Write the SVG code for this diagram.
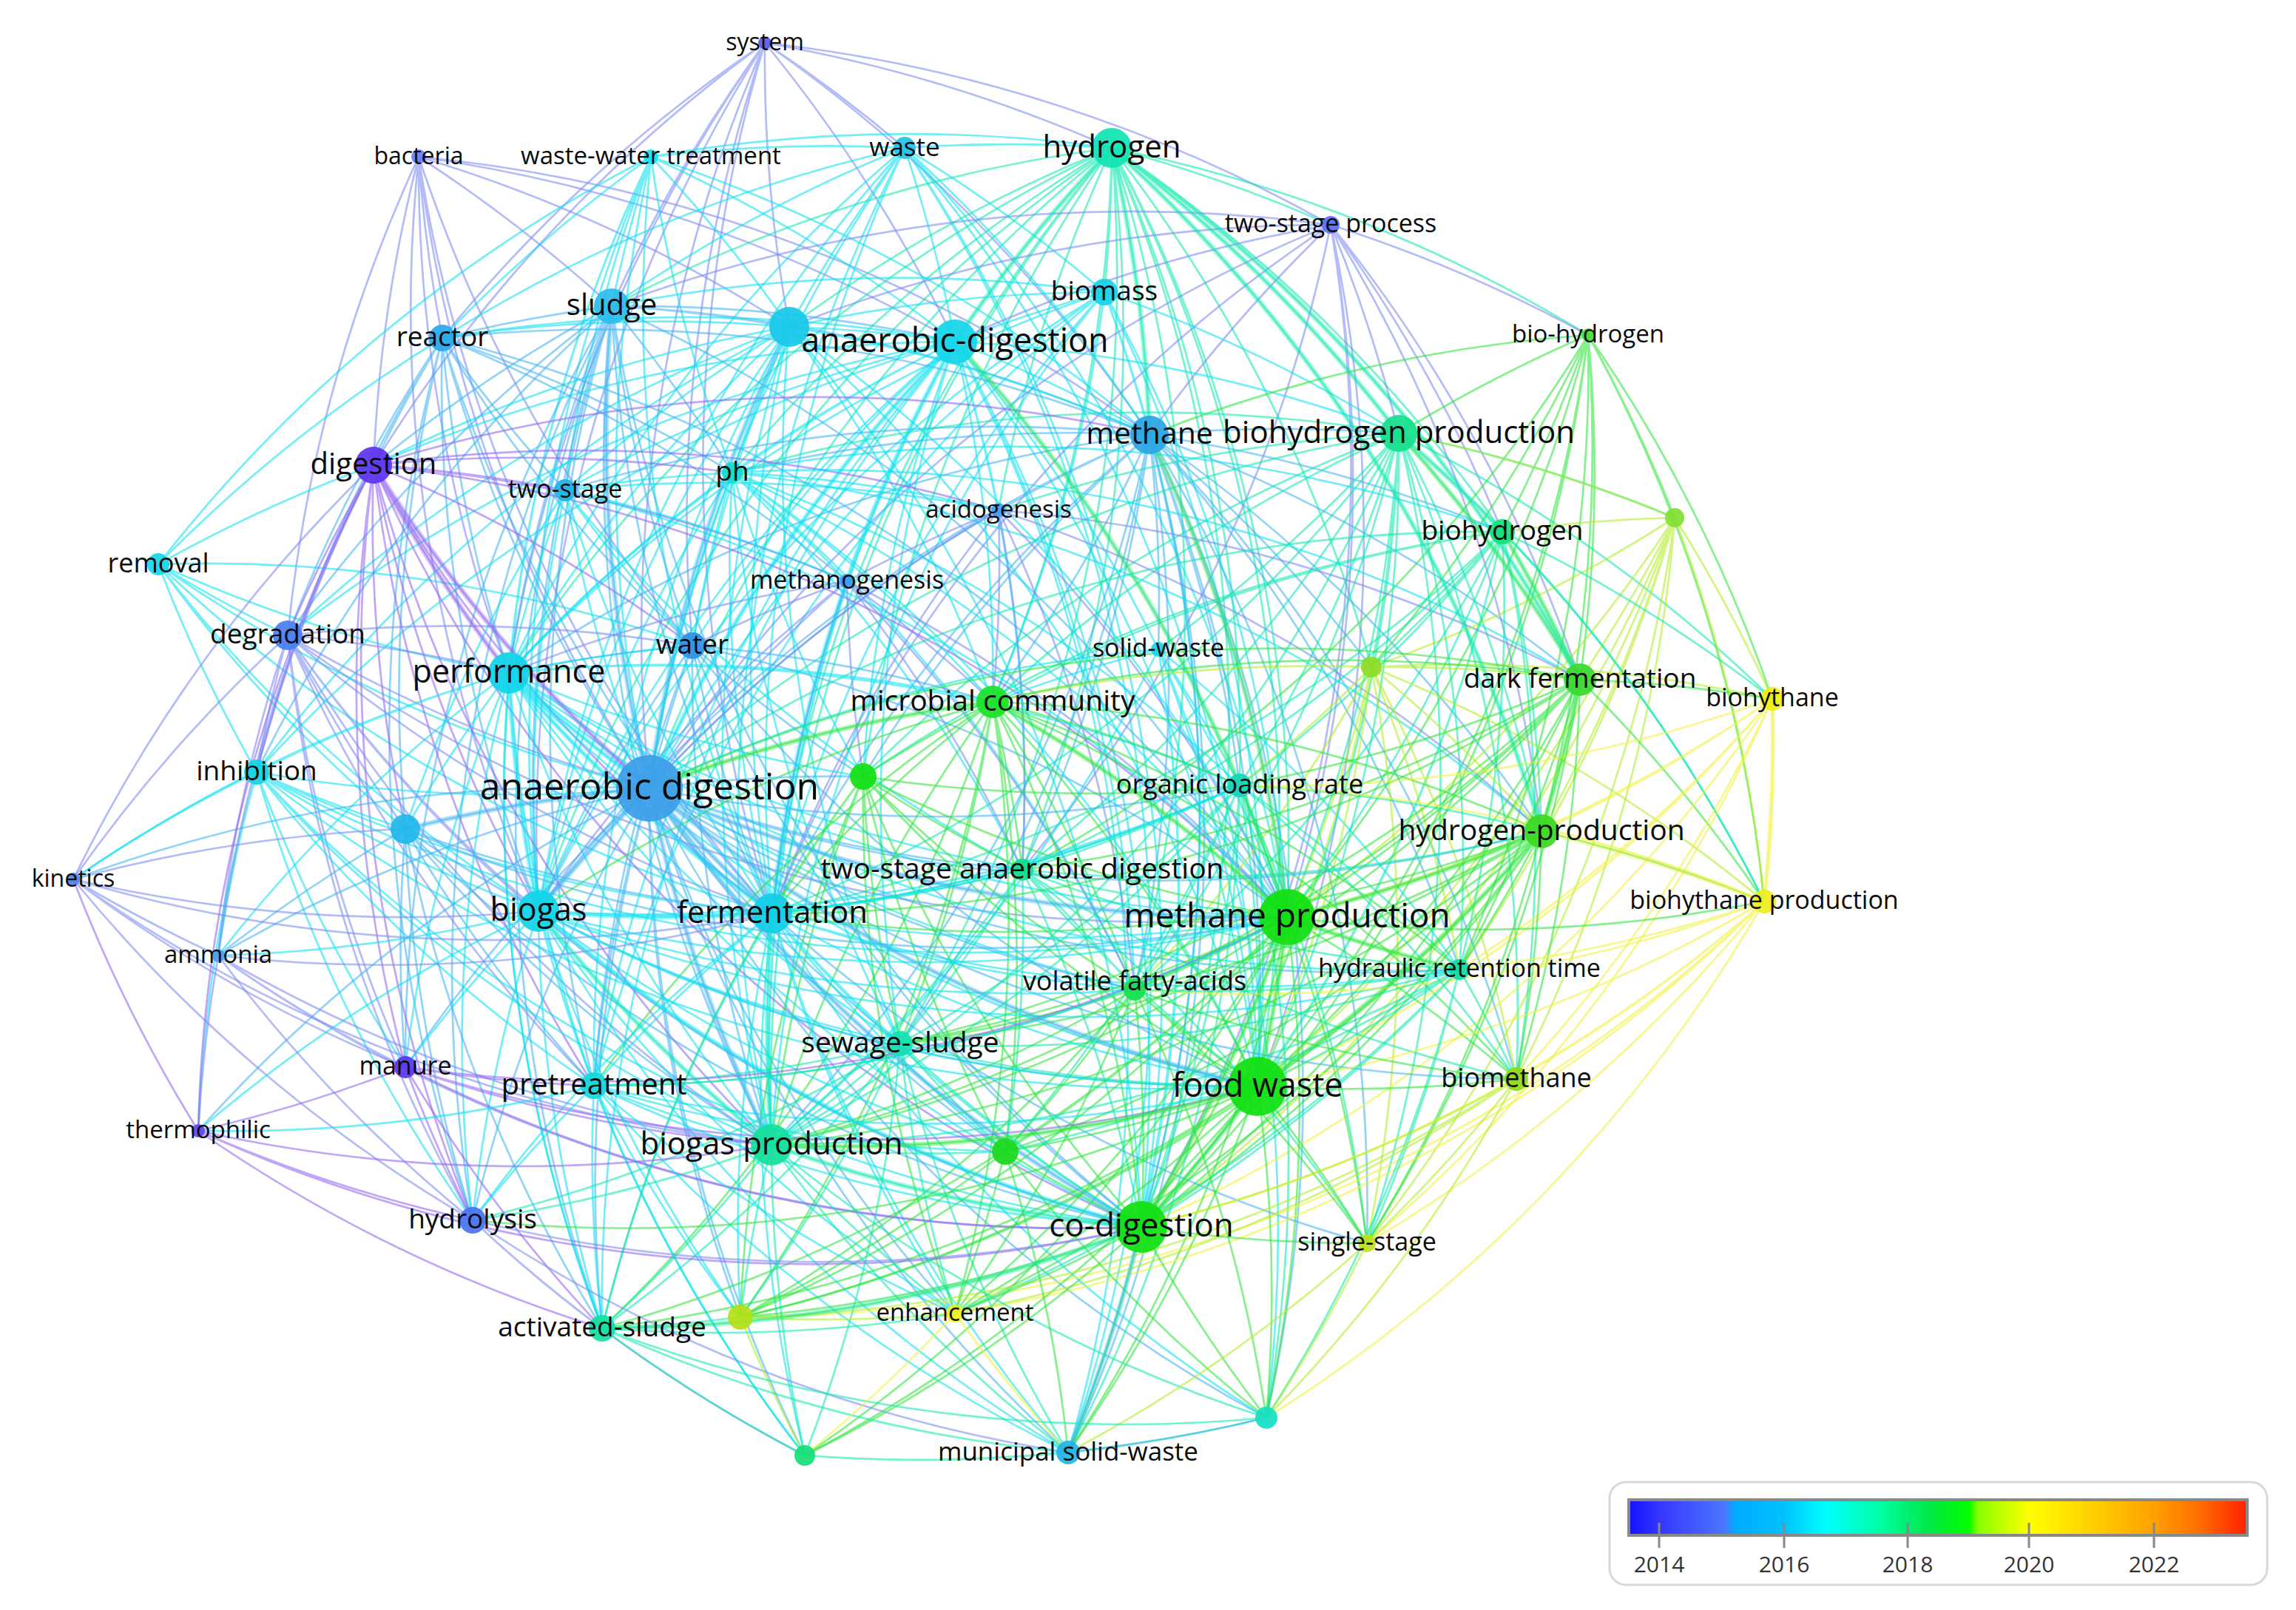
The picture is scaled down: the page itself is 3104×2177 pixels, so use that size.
<svg xmlns="http://www.w3.org/2000/svg" width="3104" height="2177" viewBox="0 0 3104 2177">
<defs>
<style>
text{font-family:"Open Sans","Noto Sans","Liberation Sans",sans-serif;fill:#0a0a0a;text-anchor:middle}
#edges path{fill:none;stroke-width:2.7;stroke-opacity:.58;stroke-linecap:round}
#edges path.k{stroke-width:7;stroke-opacity:.36}
.p{stroke:#9466f2}.b{stroke:#7d8cf3}.l{stroke:#44b4f2}.c{stroke:#0fe2f0}.t{stroke:#12e8b0}.g{stroke:#2ee63c}.y{stroke:#b2ee28}.Y{stroke:#f2f23a}
.n circle{fill-opacity:.93}
.lg text{font-size:30px;fill:#333}
</style>
<linearGradient id="cb" x1="0" x2="1" y1="0" y2="0">
<stop offset="0" stop-color="#1212ff"/><stop offset=".05" stop-color="#3636ff"/><stop offset=".155" stop-color="#4a76ff"/><stop offset=".172" stop-color="#00aaff"/><stop offset=".251" stop-color="#00c2ff"/><stop offset=".319" stop-color="#00ffff"/><stop offset=".402" stop-color="#00ffa8"/><stop offset=".451" stop-color="#00f070"/><stop offset=".49" stop-color="#00e840"/><stop offset=".55" stop-color="#00ff00"/><stop offset=".565" stop-color="#88ff00"/><stop offset=".647" stop-color="#ffff00"/><stop offset=".75" stop-color="#ffd000"/><stop offset=".849" stop-color="#ffa000"/><stop offset=".92" stop-color="#ff7000"/><stop offset="1" stop-color="#ff2000"/>
</linearGradient>
</defs>
<rect width="3104" height="2177" fill="#fff"/>
<g id="edges">
<path class="b" d="M1034 58A2e3 2e3 0 0 1 1223 200M1034 58A2e3 2e3 0 0 1 1503 200M1034 58A2e3 2e3 0 0 1 1799 304M1034 58A2e3 2e3 0 0 0 827 414M1034 58A2e3 2e3 0 0 0 1067 442M1034 58A2e3 2e3 0 0 1 1291 462M1034 58A2e3 2e3 0 0 0 878 1066M1034 58A2e3 2e3 0 0 0 688 910M1034 58A2e3 2e3 0 0 0 505 629M1034 58A2e3 2e3 0 0 0 598 457M1034 58A2e3 2e3 0 0 1 1554 588M1034 58A2e3 2e3 0 0 0 728 1232M1034 58A2e3 2e3 0 0 0 1044 1235M1034 58A2e3 2e3 0 0 0 936 873"/>
<path class="b" d="M566 212A2e3 2e3 0 0 1 827 414M566 212A2e3 2e3 0 0 0 598 457M566 212A2e3 2e3 0 0 0 505 629M566 212A2e3 2e3 0 0 0 878 1066M566 212A2e3 2e3 0 0 0 688 910M566 212A2e3 2e3 0 0 1 1067 442M566 212A2e3 2e3 0 0 1 1291 462M566 212A2e3 2e3 0 0 0 389 859M566 212A2e3 2e3 0 0 0 728 1232M566 212A2e3 2e3 0 0 0 936 873M566 212A2e3 2e3 0 0 1 1554 588M566 212A2e3 2e3 0 0 0 1044 1235"/>
<path class="c" d="M880 212A2e3 2e3 0 0 0 827 414M880 212A2e3 2e3 0 0 0 598 457M880 212A2e3 2e3 0 0 1 1067 442M880 212A2e3 2e3 0 0 1 1291 462M880 212A2e3 2e3 0 0 0 878 1066M880 212A2e3 2e3 0 0 0 688 910M880 212A2e3 2e3 0 0 1 1223 200M880 212A2e3 2e3 0 0 1 1503 200M880 212A2e3 2e3 0 0 0 728 1232M880 212A2e3 2e3 0 0 0 990 639M880 212A2e3 2e3 0 0 0 1044 1235M880 212A2e3 2e3 0 0 1 1554 588M880 212A2e3 2e3 0 0 0 814 1796M880 212A2e3 2e3 0 0 0 764 663"/>
<path class="c" d="M214 763A2e3 2e3 0 0 0 688 910M214 763A2e3 2e3 0 0 0 878 1066M214 763A2e3 2e3 0 0 0 728 1232M214 763A2e3 2e3 0 0 0 389 859M214 763A2e3 2e3 0 0 1 505 629M214 763A2e3 2e3 0 0 1 598 457M214 763A2e3 2e3 0 0 0 548 1121M214 763A2e3 2e3 0 0 0 1044 1235M214 763A2e3 2e3 0 0 1 936 873M214 763A2e3 2e3 0 0 1 880 212M214 763A2e3 2e3 0 0 0 347 1044"/>
<path class="c" d="M1223 200A2e3 2e3 0 0 1 1503 200M1223 200A2e3 2e3 0 0 0 1067 442M1223 200A2e3 2e3 0 0 1 1291 462M1223 200A2e3 2e3 0 0 0 827 414M1223 200A2e3 2e3 0 0 0 878 1066M1223 200A2e3 2e3 0 0 0 688 910M1223 200A2e3 2e3 0 0 0 728 1232M1223 200A2e3 2e3 0 0 0 1044 1235M1223 200A2e3 2e3 0 0 1 1554 588M1223 200A2e3 2e3 0 0 1 1493 395M1223 200A2e3 2e3 0 0 1 1543 1659M1223 200A2e3 2e3 0 0 1 1700 1469M1223 200A2e3 2e3 0 0 1 1444 1964M1223 200A2e3 2e3 0 0 0 1043 1548M1223 200A2e3 2e3 0 0 1 1740 1240M1223 200A2e3 2e3 0 0 0 598 457"/>
<path class="t" d="M1503 200A2e3 2e3 0 0 0 1291 462M1503 200A2e3 2e3 0 0 0 1067 442M1503 200A2e3 2e3 0 0 1 1493 395M1503 200A2e3 2e3 0 0 1 1554 588M1503 200A2e3 2e3 0 0 1 1891 586M1503 200A2e3 2e3 0 0 1 2031 719M1503 200A2e3 2e3 0 0 1 2136 919M1503 200A2e3 2e3 0 0 1 2084 1124M1503 200A2e3 2e3 0 0 1 1740 1240M1503 200A2e3 2e3 0 0 0 1044 1235M1503 200A2e3 2e3 0 0 0 878 1066M1503 200A2e3 2e3 0 0 0 688 910M1503 200A2e3 2e3 0 0 0 728 1232M1503 200A2e3 2e3 0 0 1 1799 304M1503 200A2e3 2e3 0 0 0 827 414M1503 200A2e3 2e3 0 0 0 1350 690M1503 200A2e3 2e3 0 0 1 1342 949M1503 200A2e3 2e3 0 0 1 1382 1176M1503 200A2e3 2e3 0 0 1 1700 1469M1503 200A2e3 2e3 0 0 1 1543 1659M1503 200A2e3 2e3 0 0 1 2147 453M1503 200A2e3 2e3 0 0 0 990 639M1503 200A2e3 2e3 0 0 1 1854 902M1503 200A2e3 2e3 0 0 1 1676 1062M1503 200A2e3 2e3 0 0 1 1534 1338M1503 200A2e3 2e3 0 0 1 1217 1411M1503 200A2e3 2e3 0 0 0 1043 1548M1503 200A2e3 2e3 0 0 0 1167 1050"/>
<path class="b" d="M1799 304A2e3 2e3 0 0 1 1891 586M1799 304A2e3 2e3 0 0 0 1554 588M1799 304A2e3 2e3 0 0 0 1291 462M1799 304A2e3 2e3 0 0 1 1740 1240M1799 304A2e3 2e3 0 0 1 1700 1469M1799 304A2e3 2e3 0 0 0 878 1066M1799 304A2e3 2e3 0 0 0 1044 1235M1799 304A2e3 2e3 0 0 1 2031 719M1799 304A2e3 2e3 0 0 0 827 414M1799 304A2e3 2e3 0 0 0 1067 442M1799 304A2e3 2e3 0 0 1 1382 1176M1799 304A2e3 2e3 0 0 1 1543 1659M1799 304A2e3 2e3 0 0 1 2136 919M1799 304A2e3 2e3 0 0 1 2084 1124M1799 304A2e3 2e3 0 0 1 2147 453"/>
<path class="c" d="M1493 395A2e3 2e3 0 0 0 1291 462M1493 395A2e3 2e3 0 0 0 1067 442M1493 395A2e3 2e3 0 0 1 1554 588M1493 395A2e3 2e3 0 0 1 1891 586M1493 395A2e3 2e3 0 0 0 878 1066M1493 395A2e3 2e3 0 0 0 688 910M1493 395A2e3 2e3 0 0 0 728 1232M1493 395A2e3 2e3 0 0 0 1044 1235M1493 395A2e3 2e3 0 0 1 1740 1240M1493 395A2e3 2e3 0 0 1 1700 1469M1493 395A2e3 2e3 0 0 1 1543 1659M1493 395A2e3 2e3 0 0 0 803 1468M1493 395A2e3 2e3 0 0 0 1043 1548M1493 395A2e3 2e3 0 0 1 1342 949M1493 395A2e3 2e3 0 0 0 827 414"/>
<path class="l" d="M827 414A2e3 2e3 0 0 1 1291 462M827 414A2e3 2e3 0 0 1 1067 442M827 414A2e3 2e3 0 0 0 598 457M827 414A2e3 2e3 0 0 0 505 629M827 414A2e3 2e3 0 0 0 878 1066M827 414A2e3 2e3 0 0 0 688 910M827 414A2e3 2e3 0 0 0 728 1232M827 414A2e3 2e3 0 0 0 1044 1235M827 414A2e3 2e3 0 0 0 764 663M827 414A2e3 2e3 0 0 1 990 639M827 414A2e3 2e3 0 0 0 936 873M827 414A2e3 2e3 0 0 1 1554 588M827 414A2e3 2e3 0 0 0 389 859M827 414A2e3 2e3 0 0 0 347 1044M827 414A2e3 2e3 0 0 0 803 1468M827 414A2e3 2e3 0 0 0 814 1796M827 414A2e3 2e3 0 0 0 639 1650M827 414A2e3 2e3 0 0 0 548 1443M827 414A2e3 2e3 0 0 0 1043 1548M827 414A2e3 2e3 0 0 0 1543 1659M827 414A2e3 2e3 0 0 1 1740 1240"/>
<path class="c" d="M1291 462A2e3 2e3 0 0 0 1067 442M1291 462A2e3 2e3 0 0 0 598 457M1291 462A2e3 2e3 0 0 0 505 629M1291 462A2e3 2e3 0 0 1 1554 588M1291 462A2e3 2e3 0 0 1 1891 586M1291 462A2e3 2e3 0 0 0 878 1066M1291 462A2e3 2e3 0 0 0 688 910M1291 462A2e3 2e3 0 0 0 728 1232M1291 462A2e3 2e3 0 0 0 1044 1235M1291 462A2e3 2e3 0 0 0 990 639M1291 462A2e3 2e3 0 0 1 1342 949M1291 462A2e3 2e3 0 0 1 1740 1240M1291 462A2e3 2e3 0 0 1 1700 1469M1291 462A2e3 2e3 0 0 1 1543 1659M1291 462A2e3 2e3 0 0 1 1382 1176M1291 462A2e3 2e3 0 0 1 1350 690M1291 462A2e3 2e3 0 0 0 1145 786M1291 462A2e3 2e3 0 0 0 1043 1548M1291 462A2e3 2e3 0 0 0 1217 1411M1291 462A2e3 2e3 0 0 0 936 873M1291 462A2e3 2e3 0 0 0 764 663M1291 462A2e3 2e3 0 0 1 1566 878M1291 462A2e3 2e3 0 0 1 1676 1062M1291 462A2e3 2e3 0 0 1 1534 1338M1291 462A2e3 2e3 0 0 0 1167 1050M1291 462A2e3 2e3 0 0 0 347 1044M1291 462A2e3 2e3 0 0 0 389 859M1291 462A2e3 2e3 0 0 0 803 1468M1291 462A2e3 2e3 0 0 0 814 1796M1291 462A2e3 2e3 0 0 1 1444 1964"/>
<path class="c" d="M1067 442A2e3 2e3 0 0 0 598 457M1067 442A2e3 2e3 0 0 0 505 629M1067 442A2e3 2e3 0 0 0 878 1066M1067 442A2e3 2e3 0 0 0 688 910M1067 442A2e3 2e3 0 0 0 728 1232M1067 442A2e3 2e3 0 0 0 1044 1235M1067 442A2e3 2e3 0 0 0 990 639M1067 442A2e3 2e3 0 0 0 764 663M1067 442A2e3 2e3 0 0 0 936 873M1067 442A2e3 2e3 0 0 1 1554 588M1067 442A2e3 2e3 0 0 1 1740 1240M1067 442A2e3 2e3 0 0 1 1700 1469M1067 442A2e3 2e3 0 0 1 1543 1659M1067 442A2e3 2e3 0 0 1 1342 949M1067 442A2e3 2e3 0 0 0 347 1044M1067 442A2e3 2e3 0 0 0 389 859M1067 442A2e3 2e3 0 0 0 1217 1411M1067 442A2e3 2e3 0 0 0 1043 1548M1067 442A2e3 2e3 0 0 0 803 1468"/>
<path class="l" d="M598 457A2e3 2e3 0 0 0 505 629M598 457A2e3 2e3 0 0 0 878 1066M598 457A2e3 2e3 0 0 0 688 910M598 457A2e3 2e3 0 0 0 728 1232M598 457A2e3 2e3 0 0 0 1044 1235M598 457A2e3 2e3 0 0 0 764 663M598 457A2e3 2e3 0 0 1 990 639M598 457A2e3 2e3 0 0 0 936 873M598 457A2e3 2e3 0 0 0 389 859M598 457A2e3 2e3 0 0 0 347 1044M598 457A2e3 2e3 0 0 1 1554 588M598 457A2e3 2e3 0 0 1 1740 1240M598 457A2e3 2e3 0 0 1 1145 786M598 457A2e3 2e3 0 0 0 639 1650M598 457A2e3 2e3 0 0 0 548 1121"/>
<path class="g" d="M2147 453A2e3 2e3 0 0 0 1891 586M2147 453A2e3 2e3 0 0 1 2031 719M2147 453A2e3 2e3 0 0 1 2136 919M2147 453A2e3 2e3 0 0 1 2084 1124M2147 453A2e3 2e3 0 0 1 2264 700M2147 453A2e3 2e3 0 0 1 1740 1240M2147 453A2e3 2e3 0 0 1 1700 1469M2147 453A2e3 2e3 0 0 1 2396 945M2147 453A2e3 2e3 0 0 1 2385 1219M2147 453A2e3 2e3 0 0 0 1554 588M2147 453A2e3 2e3 0 0 1 1382 1176M2147 453A2e3 2e3 0 0 1 1854 902M2147 453A2e3 2e3 0 0 1 1543 1659M2147 453A2e3 2e3 0 0 1 1973 1311"/>
<path class="l" d="M1554 588A2e3 2e3 0 0 1 1891 586M1554 588A2e3 2e3 0 0 0 878 1066M1554 588A2e3 2e3 0 0 0 688 910M1554 588A2e3 2e3 0 0 0 1044 1235M1554 588A2e3 2e3 0 0 1 1740 1240M1554 588A2e3 2e3 0 0 1 1700 1469M1554 588A2e3 2e3 0 0 1 1543 1659M1554 588A2e3 2e3 0 0 1 2031 719M1554 588A2e3 2e3 0 0 1 2136 919M1554 588A2e3 2e3 0 0 1 2084 1124M1554 588A2e3 2e3 0 0 1 1342 949M1554 588A2e3 2e3 0 0 1 1382 1176M1554 588A2e3 2e3 0 0 1 1676 1062M1554 588A2e3 2e3 0 0 1 1973 1311M1554 588A2e3 2e3 0 0 1 1534 1338M1554 588A2e3 2e3 0 0 1 1217 1411M1554 588A2e3 2e3 0 0 1 1043 1548M1554 588A2e3 2e3 0 0 0 728 1232M1554 588A2e3 2e3 0 0 0 1350 690M1554 588A2e3 2e3 0 0 0 990 639M1554 588A2e3 2e3 0 0 0 1167 1050M1554 588A2e3 2e3 0 0 1 1854 902M1554 588A2e3 2e3 0 0 1 1566 878M1554 588A2e3 2e3 0 0 1 1444 1964M1554 588A2e3 2e3 0 0 1 1712 1917M1554 588A2e3 2e3 0 0 1 2050 1459M1554 588A2e3 2e3 0 0 1 1848 1681M1554 588A2e3 2e3 0 0 0 764 663"/>
<path class="t" d="M1891 586A2e3 2e3 0 0 1 2031 719M1891 586A2e3 2e3 0 0 1 2136 919M1891 586A2e3 2e3 0 0 1 2084 1124M1891 586A2e3 2e3 0 0 1 1740 1240M1891 586A2e3 2e3 0 0 1 1700 1469M1891 586A2e3 2e3 0 0 1 1543 1659M1891 586A2e3 2e3 0 0 0 878 1066M1891 586A2e3 2e3 0 0 1 1044 1235M1891 586A2e3 2e3 0 0 1 1854 902M1891 586A2e3 2e3 0 0 1 2264 700M1891 586A2e3 2e3 0 0 0 1342 949M1891 586A2e3 2e3 0 0 1 1676 1062M1891 586A2e3 2e3 0 0 1 1973 1311M1891 586A2e3 2e3 0 0 1 1534 1338M1891 586A2e3 2e3 0 0 1 1382 1176M1891 586A2e3 2e3 0 0 1 1566 878M1891 586A2e3 2e3 0 0 0 1350 690M1891 586A2e3 2e3 0 0 1 2396 945M1891 586A2e3 2e3 0 0 1 2385 1219M1891 586A2e3 2e3 0 0 1 2050 1459M1891 586A2e3 2e3 0 0 1 1848 1681M1891 586A2e3 2e3 0 0 1 1043 1548M1891 586A2e3 2e3 0 0 0 1167 1050M1891 586A2e3 2e3 0 0 0 990 639"/>
<path class="p" d="M505 629A2e3 2e3 0 0 0 878 1066M505 629A2e3 2e3 0 0 0 688 910M505 629A2e3 2e3 0 0 0 728 1232M505 629A2e3 2e3 0 0 0 1044 1235M505 629A2e3 2e3 0 0 1 764 663M505 629A2e3 2e3 0 0 1 990 639M505 629A2e3 2e3 0 0 1 936 873M505 629A2e3 2e3 0 0 0 389 859M505 629A2e3 2e3 0 0 0 347 1044M505 629A2e3 2e3 0 0 0 548 1443M505 629A2e3 2e3 0 0 0 639 1650M505 629A2e3 2e3 0 0 0 548 1121M505 629A2e3 2e3 0 0 0 803 1468M505 629A2e3 2e3 0 0 0 1043 1548M505 629A2e3 2e3 0 0 0 1543 1659M505 629A2e3 2e3 0 0 1 1740 1240M505 629A2e3 2e3 0 0 1 1145 786M505 629A2e3 2e3 0 0 1 1350 690M505 629A2e3 2e3 0 0 1 1554 588"/>
<path class="c" d="M764 663A2e3 2e3 0 0 0 878 1066M764 663A2e3 2e3 0 0 0 688 910M764 663A2e3 2e3 0 0 0 728 1232M764 663A2e3 2e3 0 0 0 1044 1235M764 663A2e3 2e3 0 0 1 990 639M764 663A2e3 2e3 0 0 0 936 873M764 663A2e3 2e3 0 0 1 1740 1240M764 663A2e3 2e3 0 0 1 1350 690M764 663A2e3 2e3 0 0 1 1145 786M764 663A2e3 2e3 0 0 0 548 1121M764 663A2e3 2e3 0 0 0 1382 1176"/>
<path class="c" d="M990 639A2e3 2e3 0 0 0 878 1066M990 639A2e3 2e3 0 0 0 688 910M990 639A2e3 2e3 0 0 0 728 1232M990 639A2e3 2e3 0 0 0 1044 1235M990 639A2e3 2e3 0 0 1 1342 949M990 639A2e3 2e3 0 0 1 1740 1240M990 639A2e3 2e3 0 0 1 1350 690M990 639A2e3 2e3 0 0 1 1145 786M990 639A2e3 2e3 0 0 0 936 873M990 639A2e3 2e3 0 0 0 1167 1050M990 639A2e3 2e3 0 0 1 1382 1176M990 639A2e3 2e3 0 0 1 1534 1338M990 639A2e3 2e3 0 0 1 1676 1062M990 639A2e3 2e3 0 0 1 2136 919M990 639A2e3 2e3 0 0 1 2084 1124M990 639A2e3 2e3 0 0 1 2031 719M990 639A2e3 2e3 0 0 0 1217 1411M990 639A2e3 2e3 0 0 1 1700 1469"/>
<path class="b" d="M1350 690A2e3 2e3 0 0 0 1145 786M1350 690A2e3 2e3 0 0 1 1740 1240M1350 690A2e3 2e3 0 0 0 1044 1235M1350 690A2e3 2e3 0 0 0 878 1066M1350 690A2e3 2e3 0 0 1 1342 949M1350 690A2e3 2e3 0 0 1 1382 1176M1350 690A2e3 2e3 0 0 1 2084 1124M1350 690A2e3 2e3 0 0 1 2136 919M1350 690A2e3 2e3 0 0 1 1534 1338"/>
<path class="y" d="M2264 700A2e3 2e3 0 0 0 2031 719M2264 700A2e3 2e3 0 0 1 2136 919M2264 700A2e3 2e3 0 0 1 2084 1124M2264 700A2e3 2e3 0 0 1 2396 945M2264 700A2e3 2e3 0 0 1 2385 1219M2264 700A2e3 2e3 0 0 1 1740 1240M2264 700A2e3 2e3 0 0 1 1700 1469M2264 700A2e3 2e3 0 0 0 1891 586M2264 700A2e3 2e3 0 0 1 2050 1459M2264 700A2e3 2e3 0 0 1 1854 902M2264 700A2e3 2e3 0 0 1 1543 1659M2264 700A2e3 2e3 0 0 1 1848 1681M2264 700A2e3 2e3 0 0 1 1973 1311"/>
<path class="t" d="M2031 719A2e3 2e3 0 0 1 2136 919M2031 719A2e3 2e3 0 0 1 2084 1124M2031 719A2e3 2e3 0 0 1 1740 1240M2031 719A2e3 2e3 0 0 1 1700 1469M2031 719A2e3 2e3 0 0 1 1854 902M2031 719A2e3 2e3 0 0 1 2396 945M2031 719A2e3 2e3 0 0 1 2385 1219M2031 719A2e3 2e3 0 0 1 1543 1659M2031 719A2e3 2e3 0 0 1 1676 1062M2031 719A2e3 2e3 0 0 1 1973 1311M2031 719A2e3 2e3 0 0 1 1534 1338M2031 719A2e3 2e3 0 0 0 878 1066M2031 719A2e3 2e3 0 0 1 1044 1235M2031 719A2e3 2e3 0 0 1 1382 1176M2031 719A2e3 2e3 0 0 1 2050 1459M2031 719A2e3 2e3 0 0 0 1342 949M2031 719A2e3 2e3 0 0 0 1167 1050"/>
<path class="b" d="M1145 786A2e3 2e3 0 0 0 878 1066M1145 786A2e3 2e3 0 0 0 1044 1235M1145 786A2e3 2e3 0 0 1 1342 949M1145 786A2e3 2e3 0 0 1 1740 1240M1145 786A2e3 2e3 0 0 0 688 910M1145 786A2e3 2e3 0 0 0 728 1232M1145 786A2e3 2e3 0 0 0 936 873M1145 786A2e3 2e3 0 0 1 1382 1176M1145 786A2e3 2e3 0 0 0 1167 1050M1145 786A2e3 2e3 0 0 1 1534 1338"/>
<path class="b" d="M389 859A2e3 2e3 0 0 1 688 910M389 859A2e3 2e3 0 0 0 347 1044M389 859A2e3 2e3 0 0 0 878 1066M389 859A2e3 2e3 0 0 0 728 1232M389 859A2e3 2e3 0 0 0 1044 1235M389 859A2e3 2e3 0 0 0 548 1121M389 859A2e3 2e3 0 0 0 295 1292M389 859A2e3 2e3 0 0 0 99 1189M389 859A2e3 2e3 0 0 0 548 1443M389 859A2e3 2e3 0 0 0 639 1650M389 859A2e3 2e3 0 0 1 936 873M389 859A2e3 2e3 0 0 0 803 1468M389 859A2e3 2e3 0 0 0 1043 1548M389 859A2e3 2e3 0 0 0 1740 1240M389 859A2e3 2e3 0 0 0 1543 1659"/>
<path class="l" d="M936 873A2e3 2e3 0 0 0 878 1066M936 873A2e3 2e3 0 0 0 688 910M936 873A2e3 2e3 0 0 0 728 1232M936 873A2e3 2e3 0 0 0 1044 1235M936 873A2e3 2e3 0 0 1 1342 949M936 873A2e3 2e3 0 0 1 1740 1240M936 873A2e3 2e3 0 0 0 1167 1050M936 873A2e3 2e3 0 0 0 803 1468M936 873A2e3 2e3 0 0 0 1043 1548M936 873A2e3 2e3 0 0 0 1543 1659M936 873A2e3 2e3 0 0 0 1700 1469"/>
<path class="c" d="M1566 878A2e3 2e3 0 0 1 1740 1240M1566 878A2e3 2e3 0 0 1 1700 1469M1566 878A2e3 2e3 0 0 1 1543 1659M1566 878A2e3 2e3 0 0 1 1676 1062M1566 878A2e3 2e3 0 0 0 1342 949M1566 878A2e3 2e3 0 0 0 878 1066M1566 878A2e3 2e3 0 0 1 1043 1548M1566 878A2e3 2e3 0 0 1 1973 1311M1566 878A2e3 2e3 0 0 1 1712 1917M1566 878A2e3 2e3 0 0 1 1444 1964"/>
<path class="c" d="M688 910A2e3 2e3 0 0 0 878 1066M688 910A2e3 2e3 0 0 0 728 1232M688 910A2e3 2e3 0 0 0 1044 1235M688 910A2e3 2e3 0 0 0 347 1044M688 910A2e3 2e3 0 0 0 548 1121M688 910A2e3 2e3 0 0 0 1043 1548M688 910A2e3 2e3 0 0 0 803 1468M688 910A2e3 2e3 0 0 0 1740 1240M688 910A2e3 2e3 0 0 0 1700 1469M688 910A2e3 2e3 0 0 0 1543 1659M688 910A2e3 2e3 0 0 1 1342 949M688 910A2e3 2e3 0 0 0 1167 1050M688 910A2e3 2e3 0 0 0 1382 1176M688 910A2e3 2e3 0 0 0 1217 1411M688 910A2e3 2e3 0 0 0 639 1650M688 910A2e3 2e3 0 0 0 548 1443M688 910A2e3 2e3 0 0 0 814 1796M688 910A2e3 2e3 0 0 0 1534 1338M688 910A2e3 2e3 0 0 1 1676 1062M688 910A2e3 2e3 0 0 0 1973 1311M688 910A2e3 2e3 0 0 0 295 1292M688 910A2e3 2e3 0 0 0 99 1189M688 910A2e3 2e3 0 0 1 936 873"/>
<path class="y" d="M1854 902A2e3 2e3 0 0 1 2136 919M1854 902A2e3 2e3 0 0 1 2084 1124M1854 902A2e3 2e3 0 0 1 1740 1240M1854 902A2e3 2e3 0 0 1 1700 1469M1854 902A2e3 2e3 0 0 1 1543 1659M1854 902A2e3 2e3 0 0 1 2396 945M1854 902A2e3 2e3 0 0 1 2385 1219M1854 902A2e3 2e3 0 0 1 2050 1459M1854 902A2e3 2e3 0 0 1 1676 1062M1854 902A2e3 2e3 0 0 1 1973 1311M1854 902A2e3 2e3 0 0 1 1848 1681M1854 902A2e3 2e3 0 0 0 1342 949M1854 902A2e3 2e3 0 0 1 1534 1338"/>
<path class="g" d="M1342 949A2e3 2e3 0 0 1 1740 1240M1342 949A2e3 2e3 0 0 1 1700 1469M1342 949A2e3 2e3 0 0 1 1543 1659M1342 949A2e3 2e3 0 0 0 878 1066M1342 949A2e3 2e3 0 0 0 1044 1235M1342 949A2e3 2e3 0 0 0 728 1232M1342 949A2e3 2e3 0 0 0 1043 1548M1342 949A2e3 2e3 0 0 0 1167 1050M1342 949A2e3 2e3 0 0 1 1382 1176M1342 949A2e3 2e3 0 0 1 1676 1062M1342 949A2e3 2e3 0 0 1 1534 1338M1342 949A2e3 2e3 0 0 1 1217 1411M1342 949A2e3 2e3 0 0 1 1359 1557M1342 949A2e3 2e3 0 0 1 1973 1311M1342 949A2e3 2e3 0 0 1 2136 919M1342 949A2e3 2e3 0 0 1 2084 1124M1342 949A2e3 2e3 0 0 1 2050 1459M1342 949A2e3 2e3 0 0 0 803 1468M1342 949A2e3 2e3 0 0 1 1291 1776M1342 949A2e3 2e3 0 0 1 1001 1781M1342 949A2e3 2e3 0 0 1 814 1796"/>
<path class="g" d="M2136 919A2e3 2e3 0 0 1 2084 1124M2136 919A2e3 2e3 0 0 1 1740 1240M2136 919A2e3 2e3 0 0 1 1700 1469M2136 919A2e3 2e3 0 0 1 1543 1659M2136 919A2e3 2e3 0 0 1 2396 945M2136 919A2e3 2e3 0 0 1 2385 1219M2136 919A2e3 2e3 0 0 1 2050 1459M2136 919A2e3 2e3 0 0 1 1973 1311M2136 919A2e3 2e3 0 0 1 1676 1062M2136 919A2e3 2e3 0 0 1 1534 1338M2136 919A2e3 2e3 0 0 1 1848 1681M2136 919A2e3 2e3 0 0 1 1382 1176M2136 919A2e3 2e3 0 0 1 1044 1235M2136 919A2e3 2e3 0 0 0 878 1066M2136 919A2e3 2e3 0 0 1 1043 1548M2136 919A2e3 2e3 0 0 1 1217 1411"/>
<path class="Y" d="M2396 945A2e3 2e3 0 0 1 2385 1219M2396 945A2e3 2e3 0 0 1 2084 1124M2396 945A2e3 2e3 0 0 1 2050 1459M2396 945A2e3 2e3 0 0 1 1740 1240M2396 945A2e3 2e3 0 0 1 1700 1469M2396 945A2e3 2e3 0 0 1 1543 1659M2396 945A2e3 2e3 0 0 1 1848 1681M2396 945A2e3 2e3 0 0 1 1973 1311M2396 945A2e3 2e3 0 0 1 1676 1062"/>
<path class="c" d="M347 1044A2e3 2e3 0 0 0 878 1066M347 1044A2e3 2e3 0 0 0 728 1232M347 1044A2e3 2e3 0 0 0 1044 1235M347 1044A2e3 2e3 0 0 0 548 1121M347 1044A2e3 2e3 0 0 0 295 1292M347 1044A2e3 2e3 0 0 0 99 1189M347 1044A2e3 2e3 0 0 0 548 1443M347 1044A2e3 2e3 0 0 0 1043 1548M347 1044A2e3 2e3 0 0 0 803 1468M347 1044A2e3 2e3 0 0 0 1740 1240M347 1044A2e3 2e3 0 0 0 1700 1469M347 1044A2e3 2e3 0 0 0 1543 1659M347 1044A2e3 2e3 0 0 0 639 1650M347 1044A2e3 2e3 0 0 0 268 1529"/>
<path class="l" d="M878 1066A2e3 2e3 0 0 0 728 1232M878 1066A2e3 2e3 0 0 0 1044 1235M878 1066A2e3 2e3 0 0 0 548 1121M878 1066A2e3 2e3 0 0 0 1043 1548M878 1066A2e3 2e3 0 0 0 803 1468M878 1066A2e3 2e3 0 0 0 1740 1240M878 1066A2e3 2e3 0 0 0 1700 1469M878 1066A2e3 2e3 0 0 0 1543 1659M878 1066A2e3 2e3 0 0 1 1167 1050M878 1066A2e3 2e3 0 0 0 1382 1176M878 1066A2e3 2e3 0 0 0 1217 1411M878 1066A2e3 2e3 0 0 0 639 1650M878 1066A2e3 2e3 0 0 0 548 1443M878 1066A2e3 2e3 0 0 0 814 1796M878 1066A2e3 2e3 0 0 0 1534 1338M878 1066A2e3 2e3 0 0 0 1676 1062M878 1066A2e3 2e3 0 0 0 1973 1311M878 1066A2e3 2e3 0 0 0 1359 1557M878 1066A2e3 2e3 0 0 0 1001 1781M878 1066A2e3 2e3 0 0 0 1291 1776M878 1066A2e3 2e3 0 0 0 1444 1964M878 1066A2e3 2e3 0 0 0 1088 1968M878 1066A2e3 2e3 0 0 0 1712 1917M878 1066A2e3 2e3 0 0 0 295 1292M878 1066A2e3 2e3 0 0 0 99 1189M878 1066A2e3 2e3 0 0 0 268 1529M878 1066A2e3 2e3 0 0 0 1848 1681M878 1066A2e3 2e3 0 0 0 2050 1459M878 1066A2e3 2e3 0 0 0 2084 1124"/>
<path class="g" d="M1167 1050A2e3 2e3 0 0 0 1044 1235M1167 1050A2e3 2e3 0 0 0 1740 1240M1167 1050A2e3 2e3 0 0 0 1700 1469M1167 1050A2e3 2e3 0 0 0 1543 1659M1167 1050A2e3 2e3 0 0 0 1043 1548M1167 1050A2e3 2e3 0 0 0 1217 1411M1167 1050A2e3 2e3 0 0 0 1382 1176M1167 1050A2e3 2e3 0 0 0 1534 1338M1167 1050A2e3 2e3 0 0 0 1359 1557M1167 1050A2e3 2e3 0 0 0 814 1796M1167 1050A2e3 2e3 0 0 0 1291 1776M1167 1050A2e3 2e3 0 0 0 1001 1781M1167 1050A2e3 2e3 0 0 0 1676 1062"/>
<path class="t" d="M1676 1062A2e3 2e3 0 0 1 1740 1240M1676 1062A2e3 2e3 0 0 1 1700 1469M1676 1062A2e3 2e3 0 0 1 1543 1659M1676 1062A2e3 2e3 0 0 1 1973 1311M1676 1062A2e3 2e3 0 0 1 1534 1338M1676 1062A2e3 2e3 0 0 1 1382 1176M1676 1062A2e3 2e3 0 0 1 2084 1124M1676 1062A2e3 2e3 0 0 1 2050 1459M1676 1062A2e3 2e3 0 0 1 1848 1681M1676 1062A2e3 2e3 0 0 1 1217 1411M1676 1062A2e3 2e3 0 0 1 1359 1557M1676 1062A2e3 2e3 0 0 1 1044 1235M1676 1062A2e3 2e3 0 0 1 1043 1548M1676 1062A2e3 2e3 0 0 1 1712 1917M1676 1062A2e3 2e3 0 0 1 1444 1964"/>
<path class="l" d="M548 1121A2e3 2e3 0 0 0 728 1232M548 1121A2e3 2e3 0 0 0 1044 1235M548 1121A2e3 2e3 0 0 0 803 1468M548 1121A2e3 2e3 0 0 0 1043 1548M548 1121A2e3 2e3 0 0 0 639 1650M548 1121A2e3 2e3 0 0 0 548 1443M548 1121A2e3 2e3 0 0 0 814 1796M548 1121A2e3 2e3 0 0 0 295 1292M548 1121A2e3 2e3 0 0 0 1740 1240M548 1121A2e3 2e3 0 0 0 1700 1469M548 1121A2e3 2e3 0 0 0 1543 1659"/>
<path class="t" d="M1382 1176A2e3 2e3 0 0 0 1740 1240M1382 1176A2e3 2e3 0 0 0 1700 1469M1382 1176A2e3 2e3 0 0 1 1543 1659M1382 1176A2e3 2e3 0 0 1 1044 1235M1382 1176A2e3 2e3 0 0 0 2084 1124M1382 1176A2e3 2e3 0 0 1 1534 1338M1382 1176A2e3 2e3 0 0 0 1973 1311M1382 1176A2e3 2e3 0 0 1 1217 1411M1382 1176A2e3 2e3 0 0 1 1359 1557M1382 1176A2e3 2e3 0 0 1 1043 1548M1382 1176A2e3 2e3 0 0 0 2050 1459M1382 1176A2e3 2e3 0 0 1 1848 1681"/>
<path class="g" d="M2084 1124A2e3 2e3 0 0 1 1740 1240M2084 1124A2e3 2e3 0 0 1 1700 1469M2084 1124A2e3 2e3 0 0 1 1543 1659M2084 1124A2e3 2e3 0 0 1 2385 1219M2084 1124A2e3 2e3 0 0 1 2050 1459M2084 1124A2e3 2e3 0 0 1 1973 1311M2084 1124A2e3 2e3 0 0 1 1534 1338M2084 1124A2e3 2e3 0 0 1 1848 1681M2084 1124A2e3 2e3 0 0 1 1044 1235M2084 1124A2e3 2e3 0 0 1 1359 1557M2084 1124A2e3 2e3 0 0 1 1043 1548M2084 1124A2e3 2e3 0 0 1 1217 1411M2084 1124A2e3 2e3 0 0 1 1291 1776M2084 1124A2e3 2e3 0 0 1 1001 1781"/>
<path class="b" d="M99 1189A2e3 2e3 0 0 1 548 1121M99 1189A2e3 2e3 0 0 0 728 1232M99 1189A2e3 2e3 0 0 0 1044 1235M99 1189A2e3 2e3 0 0 0 1043 1548M99 1189A2e3 2e3 0 0 0 639 1650M99 1189A2e3 2e3 0 0 0 548 1443M99 1189A2e3 2e3 0 0 0 295 1292M99 1189A2e3 2e3 0 0 1 505 629"/>
<path class="c" d="M728 1232A2e3 2e3 0 0 0 1044 1235M728 1232A2e3 2e3 0 0 0 1043 1548M728 1232A2e3 2e3 0 0 0 803 1468M728 1232A2e3 2e3 0 0 0 1740 1240M728 1232A2e3 2e3 0 0 0 1700 1469M728 1232A2e3 2e3 0 0 0 1543 1659M728 1232A2e3 2e3 0 0 0 1217 1411M728 1232A2e3 2e3 0 0 0 639 1650M728 1232A2e3 2e3 0 0 0 548 1443M728 1232A2e3 2e3 0 0 0 814 1796M728 1232A2e3 2e3 0 0 0 1382 1176M728 1232A2e3 2e3 0 0 0 1534 1338M728 1232A2e3 2e3 0 0 0 1676 1062M728 1232A2e3 2e3 0 0 0 1359 1557M728 1232A2e3 2e3 0 0 0 1001 1781M728 1232A2e3 2e3 0 0 0 1291 1776M728 1232A2e3 2e3 0 0 0 1444 1964M728 1232A2e3 2e3 0 0 0 1088 1968M728 1232A2e3 2e3 0 0 1 295 1292M728 1232A2e3 2e3 0 0 0 268 1529M728 1232A2e3 2e3 0 0 0 1973 1311"/>
<path class="c" d="M1044 1235A2e3 2e3 0 0 0 1043 1548M1044 1235A2e3 2e3 0 0 0 803 1468M1044 1235A2e3 2e3 0 0 0 1740 1240M1044 1235A2e3 2e3 0 0 0 1700 1469M1044 1235A2e3 2e3 0 0 0 1543 1659M1044 1235A2e3 2e3 0 0 0 1217 1411M1044 1235A2e3 2e3 0 0 0 1359 1557M1044 1235A2e3 2e3 0 0 0 1534 1338M1044 1235A2e3 2e3 0 0 0 1676 1062M1044 1235A2e3 2e3 0 0 0 1973 1311M1044 1235A2e3 2e3 0 0 0 814 1796M1044 1235A2e3 2e3 0 0 0 1291 1776M1044 1235A2e3 2e3 0 0 0 1001 1781M1044 1235A2e3 2e3 0 0 0 1444 1964M1044 1235A2e3 2e3 0 0 0 1088 1968M1044 1235A2e3 2e3 0 0 0 639 1650M1044 1235A2e3 2e3 0 0 0 1712 1917"/>
<path class="g" d="M1740 1240A2e3 2e3 0 0 1 1700 1469M1740 1240A2e3 2e3 0 0 1 1543 1659M1740 1240A2e3 2e3 0 0 0 1973 1311M1740 1240A2e3 2e3 0 0 1 1534 1338M1740 1240A2e3 2e3 0 0 1 2050 1459M1740 1240A2e3 2e3 0 0 1 1848 1681M1740 1240A2e3 2e3 0 0 1 1217 1411M1740 1240A2e3 2e3 0 0 1 1359 1557M1740 1240A2e3 2e3 0 0 1 1043 1548M1740 1240A2e3 2e3 0 0 1 1291 1776M1740 1240A2e3 2e3 0 0 1 1001 1781M1740 1240A2e3 2e3 0 0 1 1444 1964M1740 1240A2e3 2e3 0 0 1 1712 1917M1740 1240A2e3 2e3 0 0 1 1088 1968M1740 1240A2e3 2e3 0 0 0 2385 1219M1740 1240A2e3 2e3 0 0 1 814 1796M1740 1240A2e3 2e3 0 0 1 803 1468"/>
<path class="Y" d="M2385 1219A2e3 2e3 0 0 1 2050 1459M2385 1219A2e3 2e3 0 0 1 1700 1469M2385 1219A2e3 2e3 0 0 1 1543 1659M2385 1219A2e3 2e3 0 0 1 1848 1681M2385 1219A2e3 2e3 0 0 1 1973 1311M2385 1219A2e3 2e3 0 0 1 1291 1776M2385 1219A2e3 2e3 0 0 1 1001 1781M2385 1219A2e3 2e3 0 0 1 1712 1917M2385 1219A2e3 2e3 0 0 0 1676 1062M2385 1219A2e3 2e3 0 0 1 1534 1338"/>
<path class="b" d="M295 1292A2e3 2e3 0 0 0 268 1529M295 1292A2e3 2e3 0 0 0 1044 1235M295 1292A2e3 2e3 0 0 0 1043 1548M295 1292A2e3 2e3 0 0 0 1543 1659M295 1292A2e3 2e3 0 0 1 505 629M295 1292A2e3 2e3 0 0 0 639 1650M295 1292A2e3 2e3 0 0 0 548 1443"/>
<path class="t" d="M1973 1311A2e3 2e3 0 0 1 1700 1469M1973 1311A2e3 2e3 0 0 1 1543 1659M1973 1311A2e3 2e3 0 0 1 1534 1338M1973 1311A2e3 2e3 0 0 1 2050 1459M1973 1311A2e3 2e3 0 0 1 1848 1681M1973 1311A2e3 2e3 0 0 1 1712 1917M1973 1311A2e3 2e3 0 0 1 1359 1557M1973 1311A2e3 2e3 0 0 1 1217 1411M1973 1311A2e3 2e3 0 0 1 1043 1548M1973 1311A2e3 2e3 0 0 1 1291 1776"/>
<path class="g" d="M1534 1338A2e3 2e3 0 0 0 1700 1469M1534 1338A2e3 2e3 0 0 1 1543 1659M1534 1338A2e3 2e3 0 0 1 1217 1411M1534 1338A2e3 2e3 0 0 1 1359 1557M1534 1338A2e3 2e3 0 0 1 1043 1548M1534 1338A2e3 2e3 0 0 1 1291 1776M1534 1338A2e3 2e3 0 0 1 1001 1781M1534 1338A2e3 2e3 0 0 1 1848 1681M1534 1338A2e3 2e3 0 0 0 2050 1459M1534 1338A2e3 2e3 0 0 1 1712 1917"/>
<path class="t" d="M1217 1411A2e3 2e3 0 0 0 1700 1469M1217 1411A2e3 2e3 0 0 0 1543 1659M1217 1411A2e3 2e3 0 0 1 1043 1548M1217 1411A2e3 2e3 0 0 0 1359 1557M1217 1411A2e3 2e3 0 0 1 814 1796M1217 1411A2e3 2e3 0 0 0 1291 1776M1217 1411A2e3 2e3 0 0 1 1001 1781M1217 1411A2e3 2e3 0 0 0 1444 1964M1217 1411A2e3 2e3 0 0 1 1088 1968M1217 1411A2e3 2e3 0 0 1 803 1468M1217 1411A2e3 2e3 0 0 1 639 1650"/>
<path class="p" d="M548 1443A2e3 2e3 0 0 0 1043 1548M548 1443A2e3 2e3 0 0 0 803 1468M548 1443A2e3 2e3 0 0 0 1543 1659M548 1443A2e3 2e3 0 0 0 639 1650M548 1443A2e3 2e3 0 0 0 1700 1469M548 1443A2e3 2e3 0 0 0 814 1796M548 1443A2e3 2e3 0 0 0 1740 1240M548 1443A2e3 2e3 0 0 1 268 1529"/>
<path class="c" d="M803 1468A2e3 2e3 0 0 0 1043 1548M803 1468A2e3 2e3 0 0 0 1543 1659M803 1468A2e3 2e3 0 0 0 1700 1469M803 1468A2e3 2e3 0 0 0 639 1650M803 1468A2e3 2e3 0 0 0 814 1796M803 1468A2e3 2e3 0 0 0 1001 1781M803 1468A2e3 2e3 0 0 0 1291 1776M803 1468A2e3 2e3 0 0 0 1444 1964M803 1468A2e3 2e3 0 0 0 1088 1968M803 1468A2e3 2e3 0 0 0 1359 1557M803 1468A2e3 2e3 0 0 0 1740 1240M803 1468A2e3 2e3 0 0 1 268 1529"/>
<path class="g" d="M1700 1469A2e3 2e3 0 0 1 1543 1659M1700 1469A2e3 2e3 0 0 1 1043 1548M1700 1469A2e3 2e3 0 0 1 1359 1557M1700 1469A2e3 2e3 0 0 1 1848 1681M1700 1469A2e3 2e3 0 0 1 1291 1776M1700 1469A2e3 2e3 0 0 1 1001 1781M1700 1469A2e3 2e3 0 0 1 1444 1964M1700 1469A2e3 2e3 0 0 1 1712 1917M1700 1469A2e3 2e3 0 0 1 1088 1968M1700 1469A2e3 2e3 0 0 1 814 1796M1700 1469A2e3 2e3 0 0 1 639 1650M1700 1469A2e3 2e3 0 0 0 2050 1459"/>
<path class="y" d="M2050 1459A2e3 2e3 0 0 1 1543 1659M2050 1459A2e3 2e3 0 0 1 1848 1681M2050 1459A2e3 2e3 0 0 1 1712 1917M2050 1459A2e3 2e3 0 0 1 1291 1776M2050 1459A2e3 2e3 0 0 1 1001 1781"/>
<path class="p" d="M268 1529A2e3 2e3 0 0 0 639 1650M268 1529A2e3 2e3 0 0 0 1043 1548M268 1529A2e3 2e3 0 0 0 1543 1659M268 1529A2e3 2e3 0 0 0 814 1796M268 1529A2e3 2e3 0 0 1 99 1189M268 1529A2e3 2e3 0 0 1 505 629"/>
<path class="t" d="M1043 1548A2e3 2e3 0 0 0 1543 1659M1043 1548A2e3 2e3 0 0 0 1359 1557M1043 1548A2e3 2e3 0 0 1 814 1796M1043 1548A2e3 2e3 0 0 1 639 1650M1043 1548A2e3 2e3 0 0 0 1291 1776M1043 1548A2e3 2e3 0 0 0 1001 1781M1043 1548A2e3 2e3 0 0 0 1444 1964M1043 1548A2e3 2e3 0 0 0 1088 1968M1043 1548A2e3 2e3 0 0 0 1712 1917"/>
<path class="g" d="M1359 1557A2e3 2e3 0 0 0 1543 1659M1359 1557A2e3 2e3 0 0 1 1291 1776M1359 1557A2e3 2e3 0 0 1 1001 1781M1359 1557A2e3 2e3 0 0 1 1444 1964M1359 1557A2e3 2e3 0 0 0 1712 1917"/>
<path class="b" d="M639 1650A2e3 2e3 0 0 0 1543 1659M639 1650A2e3 2e3 0 0 0 814 1796M639 1650A2e3 2e3 0 0 0 1088 1968M639 1650A2e3 2e3 0 0 0 1444 1964"/>
<path class="g" d="M1543 1659A2e3 2e3 0 0 0 1848 1681M1543 1659A2e3 2e3 0 0 1 814 1796M1543 1659A2e3 2e3 0 0 1 1001 1781M1543 1659A2e3 2e3 0 0 1 1291 1776M1543 1659A2e3 2e3 0 0 1 1444 1964M1543 1659A2e3 2e3 0 0 1 1088 1968M1543 1659A2e3 2e3 0 0 0 1712 1917"/>
<path class="y" d="M1848 1681A2e3 2e3 0 0 1 1712 1917M1848 1681A2e3 2e3 0 0 1 1444 1964M1001 1781A2e3 2e3 0 0 0 1291 1776M1001 1781A2e3 2e3 0 0 0 1088 1968"/>
<path class="t" d="M814 1796A2e3 2e3 0 0 0 1001 1781M814 1796A2e3 2e3 0 0 0 1291 1776M814 1796A2e3 2e3 0 0 0 1088 1968M814 1796A2e3 2e3 0 0 0 1444 1964M814 1796A2e3 2e3 0 0 0 1712 1917M1088 1968A2e3 2e3 0 0 0 1444 1964M1088 1968A2e3 2e3 0 0 0 1712 1917"/>
<path class="Y" d="M1291 1776A2e3 2e3 0 0 1 1088 1968M1291 1776A2e3 2e3 0 0 0 1444 1964"/>
<path class="l" d="M1444 1964A2e3 2e3 0 0 0 1712 1917"/>
<path class="k l" d="M878 1066A2e3 2e3 0 0 0 728 1232M878 1066A2e3 2e3 0 0 0 1044 1235M878 1066A2e3 2e3 0 0 0 1740 1240M878 1066A2e3 2e3 0 0 0 1700 1469M878 1066A2e3 2e3 0 0 0 1543 1659M878 1066A2e3 2e3 0 0 0 1043 1548M878 1066A2e3 2e3 0 0 0 548 1121M827 414A2e3 2e3 0 0 0 878 1066M1067 442A2e3 2e3 0 0 0 878 1066M1543 1659A2e3 2e3 0 0 1 1444 1964"/>
<path class="k c" d="M688 910A2e3 2e3 0 0 0 878 1066M1291 462A2e3 2e3 0 0 0 878 1066M688 910A2e3 2e3 0 0 0 728 1232M1291 462A2e3 2e3 0 0 0 1044 1235M688 910A2e3 2e3 0 0 0 1044 1235M728 1232A2e3 2e3 0 0 0 1044 1235M728 1232A2e3 2e3 0 0 0 1543 1659"/>
<path class="k p" d="M505 629A2e3 2e3 0 0 0 878 1066M505 629A2e3 2e3 0 0 0 688 910"/>
<path class="k g" d="M1740 1240A2e3 2e3 0 0 1 1700 1469M1740 1240A2e3 2e3 0 0 1 1543 1659M1700 1469A2e3 2e3 0 0 1 1543 1659M2136 919A2e3 2e3 0 0 1 2084 1124M2031 719A2e3 2e3 0 0 1 2136 919M1342 949A2e3 2e3 0 0 0 878 1066M1342 949A2e3 2e3 0 0 1 1740 1240M2084 1124A2e3 2e3 0 0 1 1740 1240M1891 586A2e3 2e3 0 0 1 2136 919M1700 1469A2e3 2e3 0 0 1 1043 1548M2084 1124A2e3 2e3 0 0 1 1700 1469M1740 1240A2e3 2e3 0 0 0 1973 1311M1554 588A2e3 2e3 0 0 1 1740 1240M1291 462A2e3 2e3 0 0 1 1740 1240"/>
<path class="k t" d="M1503 200A2e3 2e3 0 0 1 1891 586M1503 200A2e3 2e3 0 0 1 2136 919M1891 586A2e3 2e3 0 0 1 2031 719M1503 200A2e3 2e3 0 0 1 2084 1124M1503 200A2e3 2e3 0 0 1 1554 588M1503 200A2e3 2e3 0 0 0 1291 462M728 1232A2e3 2e3 0 0 0 1043 1548M1043 1548A2e3 2e3 0 0 0 1543 1659M1044 1235A2e3 2e3 0 0 0 1043 1548M1543 1659A2e3 2e3 0 0 1 814 1796"/>
<path class="k Y" d="M2396 945A2e3 2e3 0 0 1 2385 1219M2084 1124A2e3 2e3 0 0 1 2385 1219"/>
</g>
<g id="nodes">
<g id="n-system" class="n"><circle cx="1034" cy="58" r="9" fill="#5a5af2"/><text x="1034" y="68" font-size="32">system</text></g>
<g id="n-bacteria" class="n"><circle cx="566" cy="212" r="10" fill="#6b7cf4"/><text x="566" y="222" font-size="32">bacteria</text></g>
<g id="n-waste-water-treatment" class="n"><circle cx="880" cy="212" r="10" fill="#10e4f0"/><text x="880" y="222" font-size="33">waste-water treatment</text></g>
<g id="n-waste" class="n"><circle cx="1223" cy="200" r="15" fill="#20c4ec"/><text x="1223" y="211" font-size="35">waste</text></g>
<g id="n-hydrogen" class="n"><circle cx="1503" cy="200" r="27" fill="#10e4b4"/><text x="1503" y="213" font-size="42">hydrogen</text></g>
<g id="n-two-stage-process" class="n"><circle cx="1799" cy="304" r="12" fill="#5c70f2"/><text x="1799" y="314" font-size="34">two-stage process</text></g>
<g id="n-biomass" class="n"><circle cx="1493" cy="395" r="18" fill="#18d2ea"/><text x="1493" y="406" font-size="37">biomass</text></g>
<g id="n-sludge" class="n"><circle cx="827" cy="414" r="24" fill="#2ebcec"/><text x="827" y="426" font-size="40">sludge</text></g>
<g id="n-anaerobic-digestion-2" class="n"><circle cx="1291" cy="462" r="30" fill="#14d6ea"/><text x="1291" y="476" font-size="45">anaerobic-digestion</text></g>
<g id="n-u1" class="n"><circle cx="1067" cy="442" r="27" fill="#18c8ea"/></g>
<g id="n-reactor" class="n"><circle cx="598" cy="457" r="18" fill="#2aa8ec"/><text x="598" y="468" font-size="37">reactor</text></g>
<g id="n-bio-hydrogen" class="n"><circle cx="2147" cy="453" r="9" fill="#44e030"/><text x="2147" y="463" font-size="33">bio-hydrogen</text></g>
<g id="n-methane" class="n"><circle cx="1554" cy="588" r="26" fill="#2aa6e4"/><text x="1554" y="600" font-size="41">methane</text></g>
<g id="n-biohydrogen-production" class="n"><circle cx="1891" cy="586" r="25" fill="#14e08c"/><text x="1891" y="599" font-size="42">biohydrogen production</text></g>
<g id="n-digestion" class="n"><circle cx="505" cy="629" r="25" fill="#5c34f2"/><text x="505" y="641" font-size="40">digestion</text></g>
<g id="n-two-stage" class="n"><circle cx="764" cy="663" r="15" fill="#1cb4e6"/><text x="764" y="673" font-size="34">two-stage</text></g>
<g id="n-ph" class="n"><circle cx="990" cy="639" r="14" fill="#12dccc"/><text x="990" y="650" font-size="37">ph</text></g>
<g id="n-acidogenesis" class="n"><circle cx="1350" cy="690" r="10" fill="#44a0f0"/><text x="1350" y="700" font-size="33">acidogenesis</text></g>
<g id="n-u2" class="n"><circle cx="2264" cy="700" r="13" fill="#80e030"/></g>
<g id="n-removal" class="n"><circle cx="214" cy="763" r="15" fill="#14d8e8"/><text x="214" y="774" font-size="36">removal</text></g>
<g id="n-biohydrogen" class="n"><circle cx="2031" cy="719" r="17" fill="#14e07a"/><text x="2031" y="730" font-size="37">biohydrogen</text></g>
<g id="n-methanogenesis" class="n"><circle cx="1145" cy="786" r="10" fill="#3a9af0"/><text x="1145" y="796" font-size="34">methanogenesis</text></g>
<g id="n-degradation" class="n"><circle cx="389" cy="859" r="20" fill="#4a80f0"/><text x="389" y="870" font-size="37">degradation</text></g>
<g id="n-water" class="n"><circle cx="936" cy="873" r="18" fill="#3290e4"/><text x="936" y="884" font-size="37">water</text></g>
<g id="n-solid-waste" class="n"><circle cx="1566" cy="878" r="10" fill="#1cd4e4"/><text x="1566" y="888" font-size="34">solid-waste</text></g>
<g id="n-performance" class="n"><circle cx="688" cy="910" r="28" fill="#12d4e8"/><text x="688" y="923" font-size="43">performance</text></g>
<g id="n-u3" class="n"><circle cx="1854" cy="902" r="14" fill="#8edc28"/></g>
<g id="n-microbial-community" class="n"><circle cx="1342" cy="949" r="22" fill="#1ce22a"/><text x="1342" y="961" font-size="39">microbial community</text></g>
<g id="n-dark-fermentation" class="n"><circle cx="2136" cy="919" r="22" fill="#3ad830"/><text x="2136" y="930" font-size="37">dark fermentation</text></g>
<g id="n-biohythane" class="n"><circle cx="2396" cy="945" r="16" fill="#eeee10"/><text x="2396" y="955" font-size="34">biohythane</text></g>
<g id="n-inhibition" class="n"><circle cx="347" cy="1044" r="17" fill="#14d4e4"/><text x="347" y="1055" font-size="37">inhibition</text></g>
<g id="n-anaerobic-digestion" class="n"><circle cx="878" cy="1066" r="45" fill="#3c9ee8"/><text x="878" y="1081" font-size="50">anaerobic digestion</text></g>
<g id="n-u4" class="n"><circle cx="1167" cy="1050" r="18" fill="#12e012"/></g>
<g id="n-organic-loading-rate" class="n"><circle cx="1676" cy="1062" r="16" fill="#14d4b8"/><text x="1676" y="1073" font-size="36">organic loading rate</text></g>
<g id="n-u5" class="n"><circle cx="548" cy="1121" r="20" fill="#22b8ea"/></g>
<g id="n-two-stage-anaerobic-digestion" class="n"><circle cx="1382" cy="1176" r="15" fill="#14dc8c"/><text x="1382" y="1188" font-size="39">two-stage anaerobic digestion</text></g>
<g id="n-hydrogen-production" class="n"><circle cx="2084" cy="1124" r="23" fill="#3cd820"/><text x="2084" y="1136" font-size="39">hydrogen-production</text></g>
<g id="n-kinetics" class="n"><circle cx="99" cy="1189" r="9" fill="#5284f0"/><text x="99" y="1199" font-size="32">kinetics</text></g>
<g id="n-biogas" class="n"><circle cx="728" cy="1232" r="28" fill="#12d4ea"/><text x="728" y="1245" font-size="43">biogas</text></g>
<g id="n-fermentation" class="n"><circle cx="1044" cy="1235" r="27" fill="#14cee6"/><text x="1044" y="1248" font-size="42">fermentation</text></g>
<g id="n-methane-production" class="n"><circle cx="1740" cy="1240" r="38" fill="#10e010"/><text x="1740" y="1254" font-size="46">methane production</text></g>
<g id="n-biohythane-production" class="n"><circle cx="2385" cy="1219" r="16" fill="#eeee20"/><text x="2385" y="1229" font-size="34">biohythane production</text></g>
<g id="n-ammonia" class="n"><circle cx="295" cy="1292" r="9" fill="#4e9ef0"/><text x="295" y="1302" font-size="33">ammonia</text></g>
<g id="n-hydraulic-retention-time" class="n"><circle cx="1973" cy="1311" r="14" fill="#14d8a8"/><text x="1973" y="1321" font-size="34">hydraulic retention time</text></g>
<g id="n-volatile-fatty-acids" class="n"><circle cx="1534" cy="1338" r="15" fill="#14e050"/><text x="1534" y="1339" font-size="36">volatile fatty-acids</text></g>
<g id="n-sewage-sludge" class="n"><circle cx="1217" cy="1411" r="17" fill="#14e0b0"/><text x="1217" y="1423" font-size="39">sewage-sludge</text></g>
<g id="n-manure" class="n"><circle cx="548" cy="1443" r="15" fill="#5836f2"/><text x="548" y="1453" font-size="34">manure</text></g>
<g id="n-pretreatment" class="n"><circle cx="803" cy="1468" r="18" fill="#14d8d8"/><text x="803" y="1480" font-size="40">pretreatment</text></g>
<g id="n-food-waste" class="n"><circle cx="1700" cy="1469" r="40" fill="#10e010"/><text x="1700" y="1483" font-size="45">food waste</text></g>
<g id="n-biomethane" class="n"><circle cx="2050" cy="1459" r="16" fill="#90d818"/><text x="2050" y="1470" font-size="36">biomethane</text></g>
<g id="n-thermophilic" class="n"><circle cx="268" cy="1529" r="9" fill="#6444f2"/><text x="268" y="1539" font-size="33">thermophilic</text></g>
<g id="n-biogas-production" class="n"><circle cx="1043" cy="1548" r="28" fill="#14e09c"/><text x="1043" y="1561" font-size="42">biogas production</text></g>
<g id="n-u6" class="n"><circle cx="1359" cy="1557" r="18" fill="#1cd81c"/></g>
<g id="n-hydrolysis" class="n"><circle cx="639" cy="1650" r="18" fill="#4a74f0"/><text x="639" y="1661" font-size="37">hydrolysis</text></g>
<g id="n-co-digestion" class="n"><circle cx="1543" cy="1659" r="35" fill="#10e010"/><text x="1543" y="1672" font-size="44">co-digestion</text></g>
<g id="n-single-stage" class="n"><circle cx="1848" cy="1681" r="12" fill="#bce020"/><text x="1848" y="1691" font-size="34">single-stage</text></g>
<g id="n-activated-sludge" class="n"><circle cx="814" cy="1796" r="18" fill="#14e0a0"/><text x="814" y="1807" font-size="37">activated-sludge</text></g>
<g id="n-u7" class="n"><circle cx="1001" cy="1781" r="17" fill="#b4e018"/></g>
<g id="n-enhancement" class="n"><circle cx="1291" cy="1776" r="12" fill="#f0f020"/><text x="1291" y="1786" font-size="33">enhancement</text></g>
<g id="n-u8" class="n"><circle cx="1088" cy="1968" r="14" fill="#14e078"/></g>
<g id="n-municipal-solid-waste" class="n"><circle cx="1444" cy="1964" r="16" fill="#22b4ea"/><text x="1444" y="1975" font-size="35">municipal solid-waste</text></g>
<g id="n-u9" class="n"><circle cx="1712" cy="1917" r="15" fill="#14e0c4"/></g>
</g>
<g id="legend" class="lg">
<rect x="2176" y="2004" width="889" height="139" rx="22" fill="#fff" stroke="#d8d8d8" stroke-width="3"/>
<rect x="2202" y="2028" width="836" height="48" fill="url(#cb)" stroke="#888" stroke-width="4"/>
<path d="M2243 2059V2093M2412 2059V2093M2579 2059V2093M2743 2059V2093M2912 2059V2093" stroke="#888" stroke-width="3"/>
<text x="2243" y="2126">2014</text><text x="2412" y="2126">2016</text><text x="2579" y="2126">2018</text><text x="2743" y="2126">2020</text><text x="2912" y="2126">2022</text>
</g>
</svg>
